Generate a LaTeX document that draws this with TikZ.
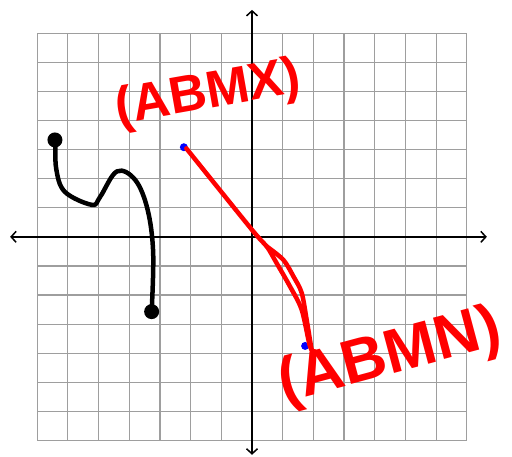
\documentclass[tikz,border=0pt]{standalone}
\usepackage{fontspec}
\setmainfont{Liberation Sans}
\usetikzlibrary{arrows.meta}
\begin{document}
\begin{tikzpicture}[x=30.7pt,y=29.1pt,
  gridline/.style={draw=black!38, line width=1.2pt},
  axis/.style={line width=1.5pt, {Straight Barb[length=5pt,width=11pt]}-{Straight Barb[length=5pt,width=11pt]}},
  pen/.style={line width=4.5pt, line cap=round, line join=round},
  enddot/.style={fill, circle, inner sep=0pt, minimum size=15pt},
  tipdot/.style={fill=blue, circle, inner sep=0pt, minimum size=8pt},
  tag/.style={text=red, inner sep=0pt}]
  \useasboundingbox (-8.21,-7.56) rectangle (8.47,8.14);
  \foreach \i in {-7,...,7} {
    \draw[gridline] (\i,-7) -- (\i,7);
    \draw[gridline] (-7,\i) -- (7,\i);
  }
  % axes
  \coordinate (xl) at (-7.88,0);
  \coordinate (xr) at (7.65,0);
  \coordinate (yb) at (0,-7.49);
  \coordinate (yt) at (0,7.8);
  \draw[axis] (xl) -- (xr);
  \draw[axis] (yb) -- (yt);
  % black graph
  \node[enddot] (start) at (-6.42,3.33) {};
  \node[enddot] (stop) at (-3.27,-2.57) {};
  \draw[pen] plot[smooth, tension=0.6] coordinates {(-6.40,3.33) (-6.38,2.35) (-6.10,1.55) (-5.22,1.10) (-4.95,1.37) (-4.40,2.25) (-3.80,1.95) (-3.40,0.93) (-3.22,-0.55) (-3.27,-2.57)};
  % red segment
  \node[tipdot] (mx) at (-2.22,3.08) {};
  \node[tipdot] (mn) at (1.73,-3.75) {};
  \draw[pen, red] plot[smooth, tension=0.5] coordinates {(-2.14,3.04) (0,0.24) (0.48,-0.33) (0.80,-0.90) (1.24,-1.71) (1.62,-2.51) (1.89,-3.77) (2.05,-3.94)};
  \draw[pen, red] plot[smooth, tension=0.5] coordinates {(0.48,-0.33) (1.02,-0.79) (1.35,-1.36) (1.62,-1.93) (1.78,-2.85) (1.94,-3.88)};
  % labels
  \node[tag, rotate=10, font=\bfseries\fontsize{52}{52}\selectfont] (abmx) at (-1.43,4.88) {(ABMX)};
  \node[tag, rotate=15, font=\bfseries\fontsize{62}{62}\selectfont] (abmn) at (4.50,-4.16) {(ABMN)};
\end{tikzpicture}
\end{document}
